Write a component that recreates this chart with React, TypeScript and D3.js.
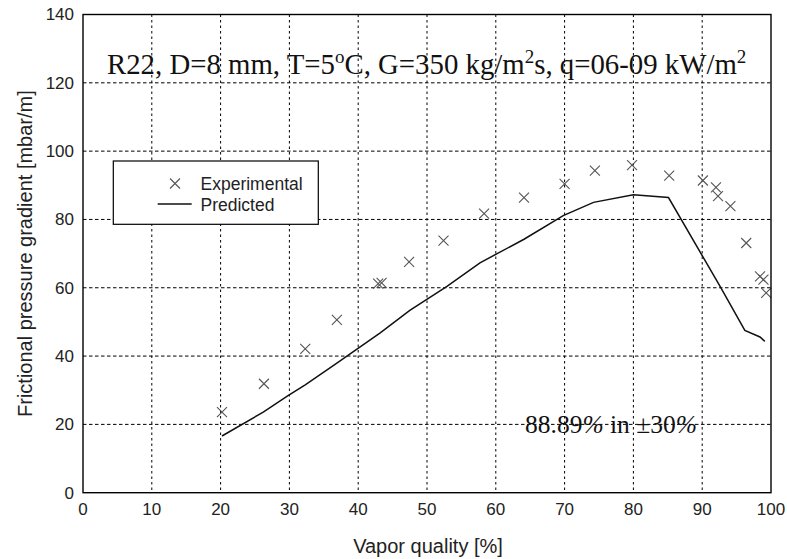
import React from "react";
import * as d3 from "d3";

const expX = [20.2, 26.3, 32.3, 36.9, 42.9, 43.4, 47.4, 52.4, 58.3, 64.1, 70.0, 74.4, 79.8, 85.2, 90.1, 92.0, 92.3, 94.1, 96.4, 98.4, 98.9, 99.3];
const expY = [23.6, 31.9, 42.1, 50.6, 61.2, 61.4, 67.6, 73.8, 81.7, 86.4, 90.4, 94.3, 95.9, 92.8, 91.4, 89.4, 86.8, 83.9, 73.1, 63.3, 62.4, 58.5];

const predX = [20.2, 26.2, 29.8, 32.3, 36.9, 43.2, 47.5, 52.9, 57.7, 64.1, 69.8, 74.2, 80.0, 85.1, 92.6, 96.2, 98.4, 99.1];
const predY = [16.6, 23.6, 28.4, 31.6, 37.9, 46.8, 53.4, 60.4, 67.3, 74.2, 81.1, 85.0, 87.2, 86.4, 60.4, 47.5, 45.6, 44.3];

const xTicks = [0, 10, 20, 30, 40, 50, 60, 70, 80, 90, 100];
const yTicks = [0, 20, 40, 60, 80, 100, 120, 140];

const W = 787;
const H = 559;
const left = 83;
const right = 771;
const top = 14.5;
const bottom = 492.7;

export default function App() {
  const x = d3.scaleLinear().domain([0, 100]).range([left, right]);
  const y = d3.scaleLinear().domain([0, 140]).range([bottom, top]);
  const line = d3
    .line<number>()
    .x((_, i) => x(predX[i]))
    .y((d) => y(d));
  const sans = "'Liberation Sans', Arial, sans-serif";
  const serif = "'Liberation Serif', 'Times New Roman', serif";
  const cross = (cx: number, cy: number, k: string | number) => (
    <path
      key={k}
      d={`M${cx - 5},${cy - 5}L${cx + 5},${cy + 5}M${cx - 5},${cy + 5}L${cx + 5},${cy - 5}`}
      stroke="#555"
      strokeWidth={1.1}
      fill="none"
    />
  );
  return (
    <svg
      width={W}
      height={H}
      style={{ position: "absolute", left: 0, top: 0, background: "#fff" }}
    >
      <rect x={0} y={0} width={W} height={H} fill="#fff" />
      {/* grid */}
      {xTicks.slice(1, -1).map((t) => (
        <line key={"gx" + t} x1={x(t)} x2={x(t)} y1={top} y2={bottom} stroke="#000" strokeWidth={1} strokeDasharray="2.5,3" />
      ))}
      {yTicks.slice(1, -1).map((t) => (
        <line key={"gy" + t} x1={left} x2={right} y1={y(t)} y2={y(t)} stroke="#000" strokeWidth={1} strokeDasharray="3.5,2.5" />
      ))}
      {/* tick labels */}
      {xTicks.map((t) => (
        <text key={"tx" + t} x={x(t)} y={515} textAnchor="middle" fontFamily={sans} fontSize={17} fill="#222">
          {t}
        </text>
      ))}
      {yTicks.map((t) => (
        <text key={"ty" + t} x={74} y={y(t)} dy="0.35em" textAnchor="end" fontFamily={sans} fontSize={17} fill="#222">
          {t}
        </text>
      ))}
      {/* predicted line */}
      <path d={line(predY) || ""} fill="none" stroke="#111" strokeWidth={1.5} />
      {/* experimental markers */}
      {expX.map((v, i) => cross(x(v), y(expY[i]), "e" + i))}
      {/* frame */}
      <rect x={left} y={top} width={right - left} height={bottom - top} fill="none" stroke="#000" strokeWidth={1.4} />
      {/* title */}
      <text x={107} y={74} fontFamily={serif} fontSize={28.8} fill="#111">
        <tspan>R22, D=8 mm, T=5</tspan>
        <tspan dy={-11} fontSize={19}>o</tspan>
        <tspan dy={11}>C, G=350 kg/m</tspan>
        <tspan dy={-11} fontSize={19}>2</tspan>
        <tspan dy={11}>s, q=06-09 kW/m</tspan>
        <tspan dy={-11} fontSize={19}>2</tspan>
      </text>
      {/* annotation */}
      <text x={525} y={433} fontFamily={serif} fontSize={25.5} fill="#111">
        <tspan>88.89</tspan>
        <tspan fontStyle="italic">%</tspan>
        <tspan> in ±30</tspan>
        <tspan fontStyle="italic">%</tspan>
      </text>
      {/* legend */}
      <rect x={113.3} y={161} width={205} height={63.3} fill="#fff" stroke="#000" strokeWidth={1.2} />
      {cross(175, 183.5, "leg")}
      <line x1={157.7} x2={191.7} y1={204} y2={204} stroke="#111" strokeWidth={1.5} />
      <text x={200.5} y={190} fontFamily={sans} fontSize={17.5} fill="#222">Experimental</text>
      <text x={200.5} y={210.5} fontFamily={sans} fontSize={17.5} fill="#222">Predicted</text>
      {/* axis labels */}
      <text x={428} y={553} textAnchor="middle" fontFamily={sans} fontSize={20} fill="#222">
        Vapor quality [%]
      </text>
      <text
        transform={`translate(31.5,${(top + bottom) / 2}) rotate(-90)`}
        textAnchor="middle"
        fontFamily={sans}
        fontSize={20}
        fill="#222"
      >
        Frictional pressure gradient [mbar/m]
      </text>
    </svg>
  );
}
